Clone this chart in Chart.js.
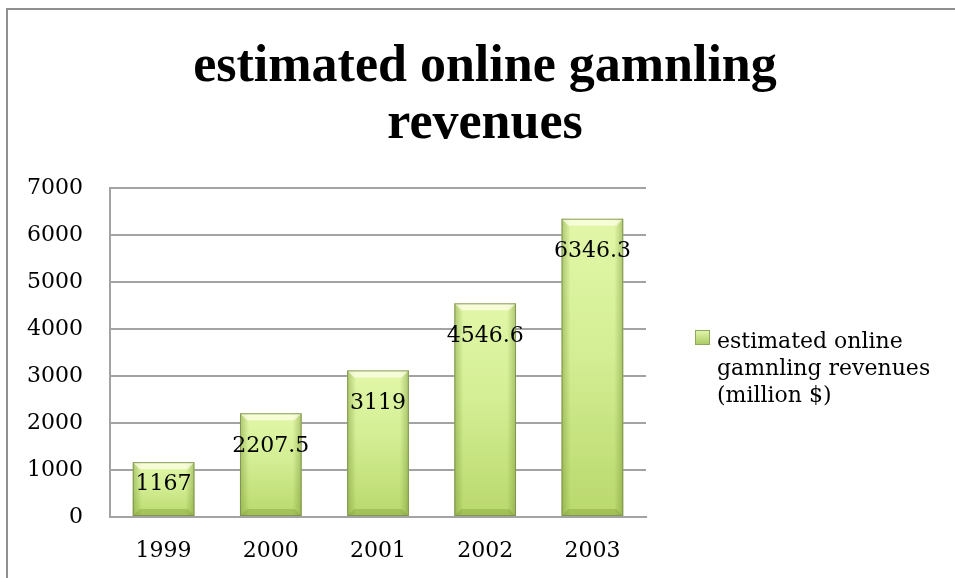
<!DOCTYPE html>
<html>
<head>
<meta charset="utf-8">
<script src="https://cdn.jsdelivr.net/npm/chart.js@4.4.1/dist/chart.umd.min.js"></script>
<style>
  html, body { margin: 0; padding: 0; background: #fff; }
  #wrap { position: relative; width: 955px; height: 578px; overflow: hidden; }
  #wrap canvas { position: absolute; left: 0; top: 0; }
  /* khung ngoài của biểu đồ (chỉ thấy cạnh trên và cạnh trái) */
  #frame { position: absolute; left: 6px; top: 8px; width: 980px; height: 600px;
           border-top: 2px solid #8f8f8f; border-left: 2px solid #8f8f8f; pointer-events: none; }
</style>
</head>
<body>
<div id="wrap">
  <canvas id="revenueChart" width="955" height="578"></canvas>
  <div id="frame"></div>
</div>
<script>
// Dữ liệu
const years = ['1999', '2000', '2001', '2002', '2003'];
const revenues = [1167, 2207.5, 3119, 4546.6, 6346.3];
const valueLabels = ['1167', '2207.5', '3119', '4546.6', '6346.3'];
const yTickValues = [0, 1000, 2000, 3000, 4000, 5000, 6000, 7000];
const titleLines = ['estimated online gamnling', 'revenues'];
const legendLines = ['estimated online', 'gamnling revenues', '(million $)'];

const FONT = '"DejaVu Serif", serif';
const GRID = '#a3a3a3';

// Màu nền cột: gradient dọc cho từng cột
function barFill(ctx) {
    const chart = ctx.chart;
    if (!chart.chartArea || ctx.type !== 'data') return '#cfe98f';
    const y = chart.scales.y;
    const top = y.getPixelForValue(ctx.raw);
    const base = y.getPixelForValue(0);
    const g = chart.ctx.createLinearGradient(0, top, 0, base);
    g.addColorStop(0, '#e2f7a8');
    g.addColorStop(0.45, '#d3ee94');
    g.addColorStop(1, '#b9d86c');
    return g;
}

// Hiệu ứng vát cạnh + nhãn giá trị
const barDecor = {
    id: 'barDecor',
    afterDatasetsDraw(chart) {
        const ctx = chart.ctx;
        const meta = chart.getDatasetMeta(0);
        meta.data.forEach((bar, i) => {
            const l = bar.x - bar.width / 2, r = bar.x + bar.width / 2;
            const t = bar.y, b = bar.base, bv = 7;
            ctx.save();
            // cạnh trái / phải tối hơn
            let g = ctx.createLinearGradient(l, 0, l + bv + 2, 0);
            g.addColorStop(0, 'rgba(110,140,45,0.45)');
            g.addColorStop(1, 'rgba(110,140,45,0)');
            ctx.fillStyle = g;
            ctx.fillRect(l, t, bv + 2, b - t);
            g = ctx.createLinearGradient(r, 0, r - bv - 2, 0);
            g.addColorStop(0, 'rgba(110,140,45,0.45)');
            g.addColorStop(1, 'rgba(110,140,45,0)');
            ctx.fillStyle = g;
            ctx.fillRect(r - bv - 2, t, bv + 2, b - t);
            // mặt vát trên sáng
            ctx.fillStyle = 'rgba(255,255,235,0.7)';
            ctx.beginPath();
            ctx.moveTo(l, t); ctx.lineTo(r, t); ctx.lineTo(r - bv, t + bv); ctx.lineTo(l + bv, t + bv);
            ctx.closePath(); ctx.fill();
            // mặt vát dưới tối
            ctx.fillStyle = 'rgba(120,150,50,0.35)';
            ctx.beginPath();
            ctx.moveTo(l, b); ctx.lineTo(r, b); ctx.lineTo(r - bv, b - bv); ctx.lineTo(l + bv, b - bv);
            ctx.closePath(); ctx.fill();
            ctx.strokeStyle = 'rgba(125,145,80,0.9)';
            ctx.lineWidth = 1;
            ctx.strokeRect(l + 0.5, t + 0.5, r - l - 1, b - t - 1);
            // nhãn giá trị bên trong đầu cột
            const h = b - t;
            ctx.fillStyle = '#000';
            ctx.font = '22px ' + FONT;
            ctx.textAlign = 'center';
            ctx.textBaseline = 'middle';
            ctx.fillText(valueLabels[i], bar.x, t + Math.min(33, h * 0.41));
            ctx.restore();
        });
    }
};

// Tiêu đề và chú thích vẽ tay
const titleLegend = {
    id: 'titleLegend',
    afterDraw(chart) {
        const ctx = chart.ctx;
        ctx.save();
        ctx.fillStyle = '#000';
        ctx.font = 'bold 52px "Liberation Serif", serif';
        ctx.textAlign = 'center';
        ctx.textBaseline = 'alphabetic';
        titleLines.forEach((s, i) => ctx.fillText(s, 485, 81 + i * 57));

        // ô màu chú thích
        const g = ctx.createLinearGradient(0, 330, 0, 345);
        g.addColorStop(0, '#e4f7ae');
        g.addColorStop(1, '#a9c960');
        ctx.fillStyle = g;
        ctx.fillRect(695, 330, 15, 15);
        ctx.strokeStyle = '#8fa860';
        ctx.lineWidth = 1;
        ctx.strokeRect(695.5, 330.5, 14, 14);

        ctx.fillStyle = '#000';
        ctx.font = '22px ' + FONT;
        ctx.textAlign = 'left';
        legendLines.forEach((s, i) => ctx.fillText(s, 717, 348 + i * 27));
        ctx.restore();
    }
};

const config = {
    type: 'bar',
    data: {
        labels: years,
        datasets: [{
            label: legendLines.join(' '),
            data: revenues,
            backgroundColor: barFill,
            borderWidth: 0,
            barPercentage: 0.575,
            categoryPercentage: 1
        }]
    },
    options: {
        responsive: false,
        devicePixelRatio: 1,
        animation: false,
        layout: { padding: { left: 0, right: 309, top: 188, bottom: 0 } },
        plugins: {
            legend: { display: false },
            title: { display: false },
            tooltip: { enabled: false }
        },
        scales: {
            x: {
                grid: { display: false, drawTicks: false },
                border: { display: true, color: GRID, width: 2 },
                ticks: { color: '#000', font: { family: FONT, size: 22 }, padding: 21 },
                afterFit(s) { s.height = 61; }
            },
            y: {
                min: 0,
                max: 7000,
                afterBuildTicks(s) { s.ticks = yTickValues.map(v => ({ value: v })); },
                grid: { color: GRID, lineWidth: 2, drawTicks: false },
                border: { display: true, color: GRID, width: 2 },
                ticks: {
                    color: '#000', font: { family: FONT, size: 22 }, padding: 27,
                    callback: (v) => String(v)
                },
                afterFit(s) { s.width = 110; }
            }
        }
    },
    plugins: [barDecor, titleLegend]
};

window.onload = function () {
    const ctx = document.getElementById('revenueChart').getContext('2d');
    new Chart(ctx, config);
};
</script>
</body>
</html>
